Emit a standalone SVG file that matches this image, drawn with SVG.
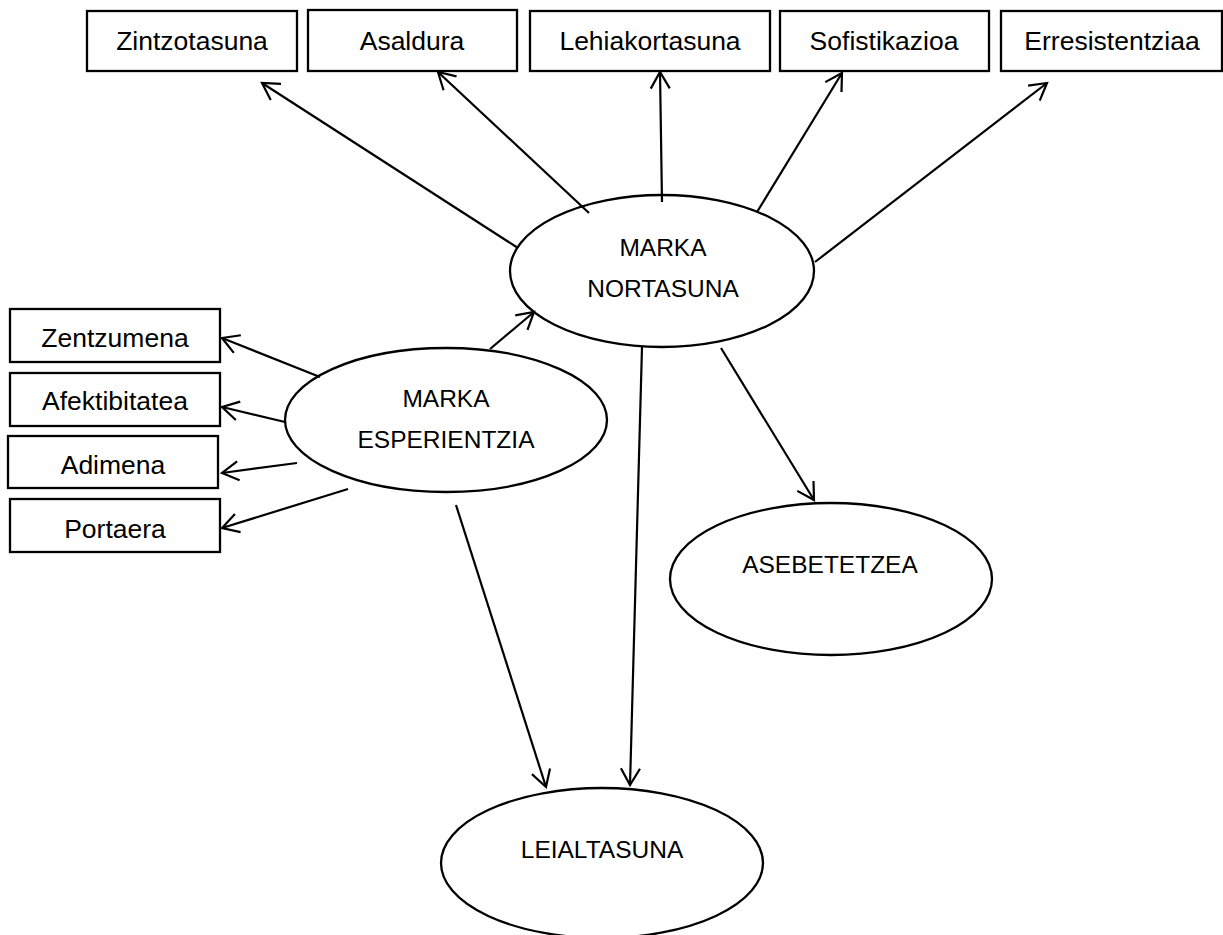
<svg xmlns="http://www.w3.org/2000/svg" width="1223" height="935" viewBox="0 0 1223 935">
<style>
.box{fill:#fff;stroke:#000;stroke-width:2.3}
.ell{fill:#fff;stroke:#000;stroke-width:2.3}
.lbl{font-family:"Liberation Sans",Arial,sans-serif;font-size:26.5px;fill:#000;text-anchor:middle}
.cap{font-family:"Liberation Sans",Arial,sans-serif;font-size:24.5px;fill:#000;text-anchor:middle}
.conn line{stroke:#000;stroke-width:2.2;marker-end:url(#arr)}
</style>
<defs>
<marker id="arr" markerUnits="userSpaceOnUse" markerWidth="40" markerHeight="40" refX="0" refY="0" orient="auto" overflow="visible">
<path d="M-16.5,-9.5 L0,0 L-16.5,9.5" fill="none" stroke="#000" stroke-width="2.2"/>
</marker>
</defs>
<rect width="1223" height="935" fill="#fff"/>
<g id="n-zintzotasuna"><rect class="box" x="87" y="11" width="210" height="60"/><text class="lbl" x="192" y="50">Zintzotasuna</text></g>
<g id="n-asaldura"><rect class="box" x="308" y="10" width="209" height="61"/><text class="lbl" x="412" y="50">Asaldura</text></g>
<g id="n-lehiakortasuna"><rect class="box" x="530" y="11" width="240" height="60"/><text class="lbl" x="650" y="50">Lehiakortasuna</text></g>
<g id="n-sofistikazioa"><rect class="box" x="780" y="11" width="209" height="60"/><text class="lbl" x="884" y="50">Sofistikazioa</text></g>
<g id="n-erresistentziaa"><rect class="box" x="1001" y="11" width="221" height="60"/><text class="lbl" x="1112" y="50">Erresistentziaa</text></g>
<g id="n-zentzumena"><rect class="box" x="10" y="309" width="210" height="53"/><text class="lbl" x="115" y="347">Zentzumena</text></g>
<g id="n-afektibitatea"><rect class="box" x="10" y="373" width="210" height="53"/><text class="lbl" x="115" y="410">Afektibitatea</text></g>
<g id="n-adimena"><rect class="box" x="8" y="436" width="210" height="52"/><text class="lbl" x="113" y="474">Adimena</text></g>
<g id="n-portaera"><rect class="box" x="10" y="499" width="210" height="53"/><text class="lbl" x="115" y="538">Portaera</text></g>
<g id="n-marka-nortasuna"><ellipse class="ell" cx="662" cy="271" rx="152" ry="76"/><text class="cap" x="663" y="256">MARKA</text><text class="cap" x="663" y="297">NORTASUNA</text></g>
<g id="n-marka-esperientzia"><ellipse class="ell" cx="446" cy="420" rx="161" ry="72"/><text class="cap" x="446" y="407">MARKA</text><text class="cap" x="446" y="448">ESPERIENTZIA</text></g>
<g id="n-asebetetzea"><ellipse class="ell" cx="831" cy="579" rx="161" ry="76"/><text class="cap" x="830" y="573">ASEBETETZEA</text></g>
<g id="n-leialtasuna"><ellipse class="ell" cx="602" cy="863" rx="161" ry="75"/><text class="cap" x="602" y="858">LEIALTASUNA</text></g>
<g id="connectors" class="conn">
<line x1="518" y1="248" x2="262" y2="83"/>
<line x1="589" y1="213" x2="438" y2="72"/>
<line x1="662" y1="202" x2="660" y2="72"/>
<line x1="757" y1="212" x2="842" y2="73"/>
<line x1="815" y1="262" x2="1047" y2="83"/>
<line x1="320" y1="377" x2="222" y2="338"/>
<line x1="285" y1="422" x2="222" y2="407"/>
<line x1="297" y1="463" x2="222" y2="473"/>
<line x1="348" y1="489" x2="222" y2="528"/>
<line x1="490" y1="349" x2="534" y2="312"/>
<line x1="456" y1="505" x2="546" y2="787"/>
<line x1="642" y1="347" x2="630" y2="785"/>
<line x1="721" y1="348" x2="814" y2="500"/>
</g>
</svg>
